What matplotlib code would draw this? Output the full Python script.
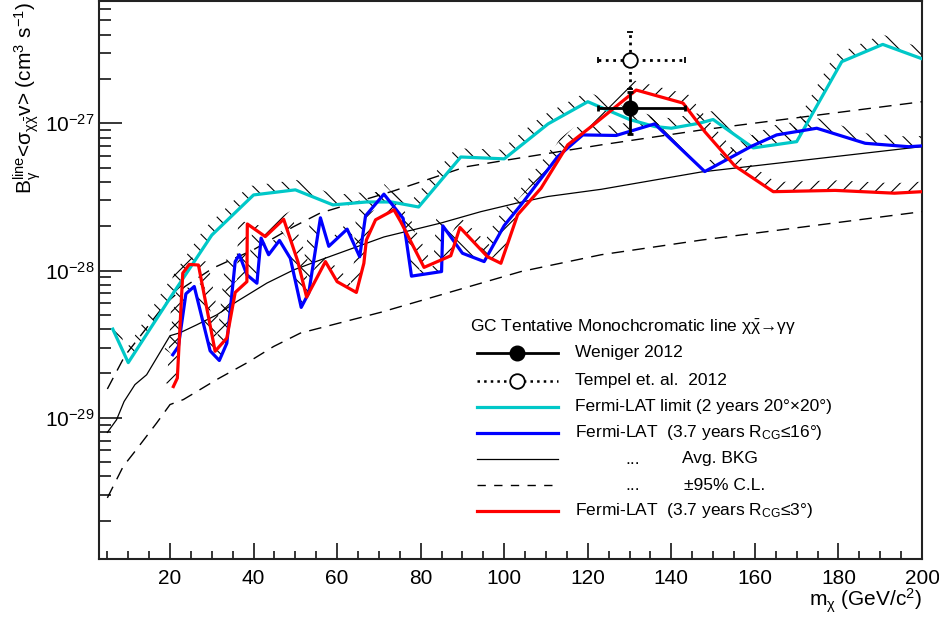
import matplotlib
matplotlib.use("Agg")
import matplotlib.pyplot as plt
import numpy as np
from matplotlib.ticker import MultipleLocator, LogLocator, NullFormatter

# ====================================== DATOS =========================================

# Fermi-LAT limite (2 years 20x20)
cyan_x = [6.3, 10, 20, 30, 40, 50, 59, 67, 73, 79.5, 89.6, 100, 110.5, 120, 130, 136,
          140, 146.7, 150, 159.6, 170, 180.8, 190.6, 200]
cyan_y = [4.0e-29, 2.37e-29, 6.5e-29, 1.74e-28, 3.26e-28, 3.53e-28, 2.79e-28, 2.92e-28,
          2.92e-28, 2.70e-28, 5.9e-28, 5.73e-28, 9.9e-28, 1.40e-27, 1.06e-27, 9.5e-28,
          9.25e-28, 1.0e-27, 1.06e-27, 6.8e-28, 7.5e-28, 2.62e-27, 3.43e-27, 2.74e-27]

# Fermi-LAT 3.7 years R_CG <= 16
blue_x = [20.65, 22.0, 23.8, 25.8, 29.6, 31.8, 33.6, 35.6, 36.6, 38.4, 40.8, 41.8, 43.6,
          46.2, 48.8, 51.4, 53.2, 56.0, 58.0, 62.4, 65.4, 66.8, 71.2, 75.8, 77.8, 85.0,
          85.3, 90.0, 95.2, 100.0, 104.0, 112.8, 118.8, 126.8, 136.0, 148.0, 159.2,
          165.2, 174.8, 186.4, 196.8, 200]
blue_y = [2.68e-29, 3.05e-29, 6.95e-29, 7.79e-29, 2.85e-29, 2.45e-29, 3.21e-29, 1.15e-28,
          1.28e-28, 9.35e-29, 8.2e-29, 1.66e-28, 1.28e-28, 1.60e-28, 1.21e-28, 5.62e-29,
          7.03e-29, 2.28e-28, 1.46e-28, 1.91e-28, 1.24e-28, 2.35e-28, 3.30e-28, 2.26e-28,
          9.16e-29, 9.84e-29, 2.01e-28, 1.31e-28, 1.15e-28, 2.02e-28, 2.79e-28, 5.93e-28,
          8.33e-28, 8.26e-28, 9.9e-28, 4.7e-28, 6.98e-28, 8.33e-28, 9.25e-28, 7.31e-28,
          6.93e-28, 7.02e-28]

# Fermi-LAT 3.7 years R_CG <= 3
red_x = [20.8, 21.75, 23.05, 24.6, 26.8, 30.8, 33.6, 35.6, 38.4, 38.5, 42.8, 47.2, 50.6,
         52.7, 57.2, 60.0, 64.6, 66.4, 67.0, 69.2, 73.6, 75.2, 80.8, 87.2, 89.4, 96.0,
         99.2, 103.2, 108.8, 115.2, 120.8, 131.6, 142.8, 148.0, 155.2, 164.4, 179.2,
         193.4, 200]
red_y = [1.63e-29, 1.86e-29, 9.6e-29, 1.10e-28, 1.09e-28, 2.83e-29, 3.48e-29, 7.1e-29,
         8.4e-29, 2.07e-28, 1.70e-28, 2.23e-28, 1.15e-28, 6.6e-29, 1.15e-28, 8.4e-29,
         7.1e-29, 1.12e-28, 1.61e-28, 2.21e-28, 2.58e-28, 2.15e-28, 1.05e-28, 1.26e-28,
         1.96e-28, 1.24e-28, 1.12e-28, 2.39e-28, 3.62e-28, 7.13e-28, 9.48e-28, 1.68e-27,
         1.37e-27, 8.77e-28, 5.13e-28, 3.43e-28, 3.50e-28, 3.35e-28, 3.43e-28]

# Fondo medio y banda 95%
bkg_x = [5, 7.2, 9.0, 11.6, 14.4, 20, 22.4, 26.4, 31.2, 36.0, 43.2, 49.6, 56, 71.2, 84.8,
         94.4, 102.8, 110.4, 123.2, 147.2, 200]
bkg_y = [7.96e-30, 9.7e-30, 1.29e-29, 1.68e-29, 1.96e-29, 3.61e-29, 3.78e-29, 4.28e-29,
         5.0e-29, 6.16e-29, 8.22e-29, 1.01e-28, 1.18e-28, 1.69e-28, 2.10e-28, 2.51e-28,
         2.86e-28, 3.18e-28, 3.56e-28, 4.67e-28, 6.94e-28]

up_x = [5, 9.2, 13.5, 19, 23.6, 30.3, 39.9, 49.5, 56, 73.5, 90.8, 100.9, 123.2, 147.2, 200]
up_y = [1.57e-29, 2.64e-29, 3.78e-29, 6.0e-29, 7.8e-29, 1.04e-28, 1.38e-28, 1.98e-28,
        2.46e-28, 3.47e-28, 5.06e-28, 5.64e-28, 7.13e-28, 9.0e-28, 1.40e-27]

lo_x = [5, 8.8, 11.6, 16.8, 20, 23.2, 31.2, 38.4, 44.8, 51.2, 70.4, 104, 123.2, 147.2, 200]
lo_y = [2.86e-30, 4.68e-30, 5.91e-30, 9.22e-30, 1.23e-29, 1.33e-29, 1.82e-29, 2.36e-29,
        3.05e-29, 3.76e-29, 5.2e-29, 9.84e-29, 1.28e-28, 1.61e-28, 2.51e-28]

# Puntos con errores (x, y, x-, x+, y-, y+)
weniger = (130, 1.27e-27, 7.6, 13.2, 1.27e-27 - 8.45e-28, 1.64e-27 - 1.27e-27)
tempel = (130, 2.69e-27, 7.6, 13.2, 2.69e-27 - 1.72e-27, 4.18e-27 - 2.69e-27)

y_ticks = [1e-29, 1e-28, 1e-27]

CYAN = "#00c8c8"
BLUE = "#0000ff"
RED = "#ff0000"

# ==================================== FUNCIONES =======================================

def banda_rayada(ax, x, y, hatch, ancho=10):
    """Rellena una franja rayada encima de la curva (estilo grafico de exclusion)."""
    pts = ax.transData.transform(np.column_stack([x, y]))
    tang = np.gradient(pts, axis=0)
    tang /= np.hypot(tang[:, 0], tang[:, 1])[:, None]
    normal = np.column_stack([-tang[:, 1], tang[:, 0]])
    borde = ax.transData.inverted().transform(pts + ancho * normal)
    poly_x = np.concatenate([x, borde[::-1, 0]])
    poly_y = np.concatenate([y, borde[::-1, 1]])
    ax.fill(poly_x, poly_y, facecolor="none", edgecolor="black", linewidth=0,
            hatch=hatch, zorder=2)


# ====================================== FIGURA ========================================

plt.rcParams["font.family"] = ["Liberation Sans", "DejaVu Sans"]
plt.rcParams["mathtext.fontset"] = "custom"
plt.rcParams["mathtext.rm"] = "Liberation Sans"
plt.rcParams["mathtext.it"] = "Liberation Sans:italic"
plt.rcParams["mathtext.default"] = "regular"
plt.rcParams["hatch.linewidth"] = 0.8

fig = plt.figure(figsize=(9.39, 6.18), dpi=100)
ax = fig.add_axes([99 / 939, 59 / 618, 823 / 939, 558 / 618])
ax.set_yscale("log")
ax.set_xlim(3, 200)
ax.set_ylim(1.1e-30, 6.76e-27)

# bandas rayadas (antes que las lineas)
banda_rayada(ax, cyan_x, cyan_y, "\\\\")
banda_rayada(ax, blue_x, blue_y, "\\\\")
banda_rayada(ax, red_x, red_y, "//")

ax.plot(bkg_x, bkg_y, color="black", lw=0.9, zorder=3)
ax.plot(up_x, up_y, color="black", lw=1.0, ls=(0, (9, 6)), zorder=3)
ax.plot(lo_x, lo_y, color="black", lw=1.0, ls=(0, (9, 6)), zorder=3)
ax.plot(cyan_x, cyan_y, color=CYAN, lw=2.3, zorder=4)
ax.plot(blue_x, blue_y, color=BLUE, lw=2.3, zorder=4)
ax.plot(red_x, red_y, color=RED, lw=2.3, zorder=4)

# Weniger 2012 y Tempel 2012
x, y, xl, xh, yl, yh = weniger
ax.errorbar([x], [y], xerr=[[xl], [xh]], yerr=[[yl], [yh]], fmt="o", color="black",
            ms=10.5, elinewidth=2, capsize=2, capthick=2, zorder=6)
x, y, xl, xh, yl, yh = tempel
eb = ax.errorbar([x], [y], xerr=[[xl], [xh]], yerr=[[yl], [yh]], fmt="o", color="black",
                 mfc="white", mec="black", mew=1.3, ms=10.5, elinewidth=2, capsize=2,
                 capthick=1, zorder=6)
for col in eb[2]:
    col.set_linestyle(":")

# ejes estilo ROOT
ax.xaxis.set_major_locator(MultipleLocator(20))
ax.xaxis.set_minor_locator(MultipleLocator(5))
ax.set_yticks(y_ticks)
ax.yaxis.set_minor_locator(LogLocator(base=10, subs=np.arange(2, 10)))
ax.yaxis.set_minor_formatter(NullFormatter())
ax.set_ylim(1.1e-30, 6.76e-27)
ax.tick_params(which="both", direction="in", top=False, right=False, labelsize=15,
               width=1.1)
ax.tick_params(axis="x", which="major", length=11.5, pad=7)
ax.tick_params(axis="x", which="minor", length=5.8)
ax.tick_params(axis="y", which="major", length=16.5, pad=3)
ax.tick_params(axis="y", which="minor", length=8.6)
for s in ax.spines.values():
    s.set_linewidth(1.5)
    s.set_color("#222222")

fig.text(922 / 939, 1 - 601 / 618, r"m$_{\chi}$ (GeV/c$^{2}$)", ha="right", va="center",
         fontsize=15)
fig.text(27 / 939, 0.996,
         r"$B_{\gamma}^{line}$<$\sigma_{\chi\bar{\chi}}$v> (cm$^{3}$ s$^{-1}$)",
         rotation=90, ha="center", va="top", fontsize=15)

# ====================================== LEYENDA =======================================

def fx(px):
    return (px - 99) / 823


def fy(py):
    return (559 - py) / 558


ax.text(fx(470), fy(327), r"GC Tentative Monochcromatic line $\chi\bar{\chi}$→$\gamma\gamma$",
        transform=ax.transAxes, fontsize=12.5, va="center")

filas = [
    (353, dict(color="black", lw=2), "Weniger 2012"),
    (381, dict(color="black", lw=1.8, ls=":"), "Tempel et. al.  2012"),
    (407, dict(color=CYAN, lw=2.3), "Fermi-LAT limit (2 years 20°×20°)"),
    (433, dict(color=BLUE, lw=2.3), r"Fermi-LAT  (3.7 years R$_{CG}$≤16°)"),
    (459, dict(color="black", lw=0.9), None),
    (485, dict(color="black", lw=1.0, ls=(0, (6, 6))), None),
    (511, dict(color=RED, lw=2.3), r"Fermi-LAT  (3.7 years R$_{CG}$≤3°)"),
]
for py, estilo, texto in filas:
    ax.plot([fx(477), fx(558)], [fy(py), fy(py)], transform=ax.transAxes, **estilo)
    if texto is not None:
        ax.text(fx(575), fy(py), texto, transform=ax.transAxes, fontsize=12.5, va="center")

ax.plot([fx(517)], [fy(353)], "o", color="black", ms=10.5, transform=ax.transAxes)
ax.plot([fx(517)], [fy(381)], "o", mfc="white", mec="black", mew=1.3, ms=10.5,
        transform=ax.transAxes)
for py, texto, x0 in [(459, "Avg. BKG", 682), (485, "±95% C.L.", 684)]:
    ax.text(fx(625), fy(py), "...", transform=ax.transAxes, fontsize=12.5, va="center")
    ax.text(fx(x0), fy(py), texto, transform=ax.transAxes, fontsize=12.5, va="center")

fig.savefig("out.png", dpi=100)
